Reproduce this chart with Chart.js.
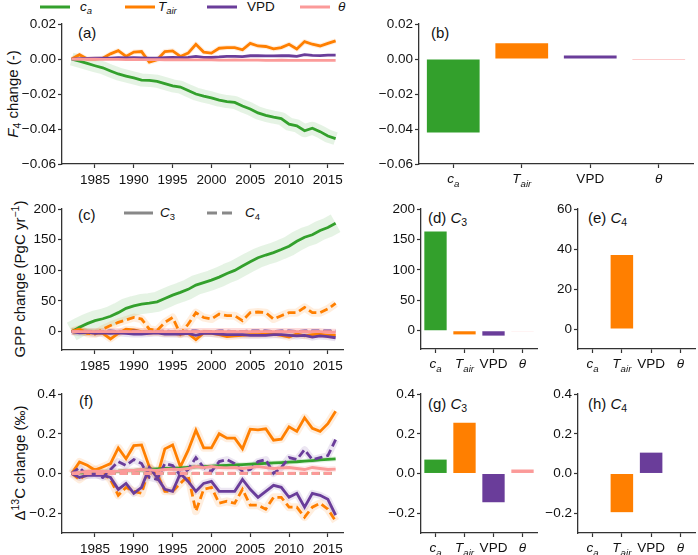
<!DOCTYPE html>
<html>
<head>
<meta charset="utf-8">
<script src="https://cdn.jsdelivr.net/npm/chart.js"></script>
<style>
  body { margin:0; background:#fff; width:698px; height:555px; position:relative; overflow:hidden;
         font-family:"Liberation Sans", Arial, sans-serif; color:#111; }
  .box { position:absolute; }
  .txt { position:absolute; white-space:nowrap; line-height:1; }
  .lab { font-size:15px; transform:translateY(-50%); }
  .ttl { font-size:15px; transform:translate(-50%,-50%) rotate(-90deg); }
  .leg { font-size:13.5px; transform:translateY(-50%); }
  .ln  { position:absolute; height:3px; transform:translateY(-50%); }
  sub { font-size:70%; vertical-align:-0.3em; line-height:0; }
  sup { font-size:70%; vertical-align:0.55em; line-height:0; }
</style>
</head>
<body>

<!-- top legend -->
<div class="ln" style="left:40px;top:7px;width:30px;background:#33a02c"></div>
<div class="txt leg" style="left:80px;top:7px"><i>c</i><sub><i>a</i></sub></div>
<div class="ln" style="left:125px;top:7px;width:30px;background:#ff7f00"></div>
<div class="txt leg" style="left:158px;top:7px"><i>T</i><sub><i>air</i></sub></div>
<div class="ln" style="left:207px;top:7px;width:30px;background:#6a3d9a"></div>
<div class="txt leg" style="left:247px;top:7px">VPD</div>
<div class="ln" style="left:300px;top:7px;width:30px;background:#fb9a99"></div>
<div class="txt leg" style="left:338px;top:7px"><i>θ</i></div>

<!-- panel (c) legend -->
<div class="ln" style="left:124px;top:213px;width:29px;background:#888"></div>
<div class="txt leg" style="left:160px;top:213px"><i>C</i><sub>3</sub></div>
<div class="ln" style="left:207px;top:213px;width:30px;background:repeating-linear-gradient(90deg,#888 0 10px,transparent 10px 15px)"></div>
<div class="txt leg" style="left:245px;top:213px"><i>C</i><sub>4</sub></div>

<!-- panel labels -->
<div class="txt lab" style="left:78px;top:32px">(a)</div>
<div class="txt lab" style="left:431px;top:32px">(b)</div>
<div class="txt lab" style="left:78px;top:214px">(c)</div>
<div class="txt lab" style="left:428px;top:217px">(d) <i>C</i><sub>3</sub></div>
<div class="txt lab" style="left:588px;top:217px">(e) <i>C</i><sub>4</sub></div>
<div class="txt lab" style="left:79px;top:400px">(f)</div>
<div class="txt lab" style="left:428px;top:403px">(g) <i>C</i><sub>3</sub></div>
<div class="txt lab" style="left:588px;top:403px">(h) <i>C</i><sub>4</sub></div>

<!-- axis titles -->
<div class="txt ttl" style="left:12px;top:94px"><i>F</i><sub>4</sub> change (-)</div>
<div class="txt ttl" style="left:19px;top:279px">GPP change (PgC yr<sup>−1</sup>)</div>
<div class="txt ttl" style="left:19px;top:463px">Δ<sup>13</sup>C change (‰)</div>

<script>
// ---- data ----
const years = [1982,1983,1984,1985,1986,1987,1988,1989,1990,1991,1992,1993,1994,1995,1996,1997,1998,1999,
               2000,2001,2002,2003,2004,2005,2006,2007,2008,2009,2010,2011,2012,2013,2014,2015,2016];
const yearTicks = [1985,1990,1995,2000,2005,2010,2015];
const factors = ['c_a','T_air','VPD','θ'];

// (a) F4 change
const f4Ca    = [0,-0.0012,-0.0025,-0.0038,-0.0050,-0.0068,-0.0085,-0.0097,-0.0108,-0.0120,-0.0122,-0.0127,-0.0140,-0.0153,-0.0160,-0.0180,-0.0200,-0.0212,
                 -0.0222,-0.0235,-0.0243,-0.0248,-0.0268,-0.0285,-0.0308,-0.0322,-0.0332,-0.0340,-0.0372,-0.0382,-0.0410,-0.0395,-0.0415,-0.0440,-0.0455];
const f4Tair  = [0,0.0025,0,0,0.0005,0.003,0.0048,0.0015,0.004,0.0043,-0.0018,-0.0004,0.0043,0.0047,0.0015,0.0034,0.0085,0.004,
                 0.0034,0.0062,0.0066,0.0066,0.0053,0.009,0.0075,0.0072,0.0058,0.0066,0.0085,0.0058,0.010,0.0085,0.0075,0.009,0.0104];
const f4Vpd   = [0,0.0003,0.0004,0.0005,0.0005,0.0006,0.0008,0.0007,0.0008,0.0007,0.0005,0.0006,0.0008,0.0009,0.0008,0.0010,0.0015,0.0010,
                 0.0009,0.0012,0.0016,0.0015,0.0014,0.0019,0.0019,0.0018,0.0018,0.0019,0.0019,0.0015,0.0025,0.0021,0.0020,0.0023,0.0023];
const f4Theta = [0,-0.0001,-0.0001,-0.0001,-0.0002,-0.0002,-0.0002,-0.0003,-0.0002,-0.0003,-0.0003,-0.0003,-0.0004,-0.0004,-0.0004,-0.0005,-0.0005,-0.0005,
                 -0.0005,-0.0006,-0.0006,-0.0005,-0.0006,-0.0006,-0.0006,-0.0007,-0.0007,-0.0006,-0.0007,-0.0007,-0.0007,-0.0008,-0.0008,-0.0008,-0.0008];
// (b)
const f4Total = [-0.042, 0.009, 0.002, -0.0005];

// (c) GPP change
const gppC3Ca    = [0,7,13,18,21,25,31,38,42,45,46.5,48.6,54,59.5,64,69,76,80,84,89,95,100,107,114,120.5,125,129,134,139.5,147.5,154,158,165,170,177];
const gppC3Tair  = [0,4,-2,-2,-3,-12,-3,4,3,0,-2,-1,-3,-3,-4,-3,-13,-2,-3,-5,-8,-7,-6,-5,-5,-4,-4,-6,-9,-4,-7,-5,-4,-6,-6];
const gppC4Tair  = [0,4,-3,-4,4,10,15,19,23,20.5,4,2,15,23,-4,12,31,23,20.5,28.6,26,26,18,31,32,31,20.5,26,31,31,39.5,31,31,37,46];
const gppC3Vpd   = [0,-2,-1,-3,-2,-3,-2,-3,-4,-4,-3,-2,-4,-4,-4,-3,-6,-3,-3,-4,-5,-5,-5,-6,-6,-6,-5,-5,-6,-7,-6,-9,-7,-8,-10];
const gppC4Vpd   = [0,0,0,0,0,1,0,0,1,0,0,0,1,0,0,1,1,0,0,1,1,0,0,1,1,1,0,1,1,0,1,1,1,1,1];
const gppC3Theta = [0,0,0,0,0,0,0,0,0,0,0,0,0,0,0,0,0,0,0,0,0,0,0,0,0,0,0,0,0,0,0,0,0,-1,-1];
const gppC4Zero  = [0,0,0,0,0,0,0,0,0,0,0,0,0,0,0,0,0,0,0,0,0,0,0,0,0,0,0,0,0,0,0,0,0,0,0];
// (d), (e)
const gppC3Total = [163, -6, -8, -1];
const gppC4Total = [0, 37, 0, 0];

// (f) Delta13C change
const dC3Ca    = [0,0.003,0.005,0.007,0.009,0.011,0.012,0.014,0.016,0.018,0.021,0.023,0.025,0.026,0.028,0.031,0.033,0.035,
                  0.037,0.039,0.041,0.043,0.045,0.047,0.049,0.051,0.053,0.055,0.057,0.059,0.062,0.065,0.068,0.071,0.074];
const dC3Tair  = [0,0.058,0.041,0.017,0.033,0.05,0.129,0.074,0.14,0.144,0.033,-0.017,0.124,0.144,0.033,0.116,0.218,0.129,
                  0.129,0.2,0.178,0.178,0.124,0.223,0.22,0.225,0.168,0.173,0.235,0.212,0.281,0.228,0.212,0.251,0.314];
const dC4Tair  = [0,-0.03,0,0.02,0,-0.03,-0.11,-0.07,-0.09,-0.1,0.03,0,-0.09,-0.09,-0.05,-0.01,-0.19,-0.08,
                  -0.07,-0.15,-0.14,-0.15,-0.08,-0.16,-0.16,-0.18,-0.12,-0.12,-0.17,-0.17,-0.22,-0.17,-0.15,-0.18,-0.24];
const dC3Vpd   = [0,-0.02,-0.01,-0.01,-0.01,-0.02,-0.08,-0.05,-0.1,-0.07,0.03,-0.02,-0.08,-0.09,0,-0.04,-0.09,-0.05,
                  -0.04,-0.09,-0.09,-0.09,-0.03,-0.08,-0.12,-0.09,-0.06,-0.07,-0.12,-0.1,-0.17,-0.1,-0.11,-0.13,-0.21];
const dC4Vpd   = [0,0.03,-0.01,0,-0.02,0.02,0.06,0.04,0.07,0.05,-0.02,-0.03,0.05,0.04,-0.01,0.02,0.08,0.03,
                  0.01,0.06,0.07,0.05,0.01,0.02,0.06,0.07,0,0.03,0.08,0.07,0.12,0.07,0.08,0.09,0.17];
const dC3Theta = [0,0.005,0.01,0.012,0.01,0.01,0.012,0.015,0.015,0.02,0.018,0.015,0.02,0.022,0.02,0.025,0.035,0.03,
                  0.035,0.03,0.028,0.03,0.025,0.03,0.035,0.03,0.025,0.028,0.03,0.025,0.02,0.03,0.025,0.02,0.022];
const dC4Zero  = gppC4Zero;
// (g), (h)
const dC3Total = [0.07, 0.255, -0.145, 0.02];
const dC4Total = [0, -0.195, 0.105, 0];

// tick values
const f4Ticks  = [-0.06,-0.04,-0.02,0,0.02];
const gppTicks = [0,50,100,150,200];
const c4Ticks  = [0,20,40,60];
const dTicks   = [-0.2,0,0.2,0.4];

// ---- style ----
const GREEN = '#33a02c', ORANGE = '#ff7f00', PURPLE = '#6a3d9a', PINK = '#fb9a99';
const barColors = [GREEN, ORANGE, PURPLE, PINK];
const FONT = '"Liberation Sans", Arial, sans-serif';
Chart.defaults.font.family = FONT;
Chart.defaults.font.size = 13.5;
Chart.defaults.color = '#111';

const YW = 56, XH = 30, PT = 9, PR = 6;

function fmt(dec) {
  return v => (v < 0 ? '\u2212' : '') + Math.abs(v).toFixed(dec);
}

function makeCanvas(r) {
  const [L, T, R, B] = r;
  const w = R - L + YW + PR, h = B - T + PT + XH;
  const d = document.createElement('div');
  d.className = 'box';
  d.style.left = (L - YW) + 'px';
  d.style.top = (T - PT) + 'px';
  const c = document.createElement('canvas');
  c.width = w; c.height = h;
  c.style.width = w + 'px'; c.style.height = h + 'px';
  d.appendChild(c);
  document.body.appendChild(d);
  return c;
}

const spine = {
  border: { display: true, color: '#333', width: 1.3 },
  grid: { drawOnChartArea: false, drawTicks: true, tickLength: 4, color: '#333', tickWidth: 1.2 }
};

function yAxis(ticks, min, max, f) {
  return Object.assign({}, spine, {
    type: 'linear', min: min, max: max,
    ticks: { padding: 2, callback: f },
    afterBuildTicks: s => { s.ticks = ticks.map(v => ({ value: v })); },
    afterFit: s => { s.width = YW; }
  });
}

// category labels with italics and subscripts
function partsOf(label) {
  if (label === 'VPD') return [[label, false, false]];
  const [b, s] = label.split('_');
  const out = [[b, true, false]];
  if (s) out.push([s, true, true]);
  return out;
}
function drawRich(ctx, parts, cx, base, size) {
  const fontOf = p => (p[1] ? 'italic ' : '') + (p[2] ? size * 0.72 : size) + 'px ' + FONT;
  let w = 0;
  parts.forEach(p => { ctx.font = fontOf(p); w += ctx.measureText(p[0]).width; });
  let x = cx - w / 2;
  ctx.save();
  ctx.fillStyle = '#111';
  ctx.textAlign = 'left';
  ctx.textBaseline = 'alphabetic';
  parts.forEach(p => {
    ctx.font = fontOf(p);
    ctx.fillText(p[0], x, base + (p[2] ? size * 0.3 : 0));
    x += ctx.measureText(p[0]).width;
  });
  ctx.restore();
}
const richTicks = {
  id: 'richTicks',
  afterDraw(chart) {
    const sc = chart.scales.x;
    sc.ticks.forEach((t, i) => {
      drawRich(chart.ctx, partsOf(factors[i]), sc.getPixelForTick(i), sc.top + 19, 13.5);
    });
  }
};

function lineChart(rect, yT, yMin, yMax, f, lines) {
  const datasets = [];
  lines.forEach((ln, k) => {
    const pts = years.map((yr, i) => ({ x: yr, y: ln.vals[i] }));
    if (ln.halo) {
      datasets.push({ data: pts, borderColor: ln.haloColor, borderWidth: ln.halo, pointRadius: 0,
                      borderJoinStyle: 'round', borderCapStyle: 'butt', order: 100 + k });
    }
    datasets.push({ data: pts, borderColor: ln.color, borderWidth: ln.width || 2.8, pointRadius: 0,
                    borderDash: ln.dash ? [8, 4] : [], order: ln.order });
  });
  new Chart(makeCanvas(rect), {
    type: 'line',
    data: { datasets },
    options: {
      responsive: false, animation: false, devicePixelRatio: 1,
      layout: { padding: { top: PT, right: PR, left: 0, bottom: 0 } },
      plugins: { legend: { display: false }, tooltip: { enabled: false } },
      elements: { line: { tension: 0 } },
      scales: {
        x: Object.assign({}, spine, {
          type: 'linear', min: 1980.75, max: 2016.95,
          ticks: { padding: 4, maxRotation: 0, autoSkip: false, callback: v => String(v) },
          afterBuildTicks: s => { s.ticks = yearTicks.map(v => ({ value: v })); },
          afterFit: s => { s.height = XH; }
        }),
        y: yAxis(yT, yMin, yMax, f)
      }
    }
  });
}

function barChart(rect, yT, yMin, yMax, f, vals) {
  new Chart(makeCanvas(rect), {
    type: 'bar',
    data: {
      labels: factors,
      datasets: [{ data: vals, backgroundColor: barColors, borderWidth: 0,
                   barPercentage: 0.77, categoryPercentage: 1 }]
    },
    options: {
      responsive: false, animation: false, devicePixelRatio: 1,
      layout: { padding: { top: PT, right: PR, left: 0, bottom: 0 } },
      plugins: { legend: { display: false }, tooltip: { enabled: false } },
      scales: {
        x: {
          type: 'category', offset: true,
          border: spine.border,
          grid: Object.assign({}, spine.grid, { offset: false }),
          ticks: { callback: () => '' },
          afterFit: s => { s.height = XH; }
        },
        y: yAxis(yT, yMin, yMax, f)
      }
    },
    plugins: [richTicks]
  });
}

// (a)
lineChart([62, 23, 343, 164], f4Ticks, -0.06, 0.02, fmt(2), [
  { vals: f4Ca,    color: GREEN,  order: 4, halo: 13, haloColor: 'rgba(51,160,44,0.13)' },
  { vals: f4Tair,  color: ORANGE, order: 3, halo: 5,  haloColor: 'rgba(255,127,0,0.12)' },
  { vals: f4Vpd,   color: PURPLE, order: 2 },
  { vals: f4Theta, color: PINK,   order: 1 }
]);
// (b)
barChart([419, 23, 693, 164], f4Ticks, -0.06, 0.02, fmt(2), f4Total);

// (c)
lineChart([62, 208, 343, 350], gppTicks, -30, 200, fmt(0), [
  { vals: gppC3Ca,    color: GREEN,  order: 8, halo: 20, haloColor: 'rgba(51,160,44,0.13)' },
  { vals: gppC4Zero,  color: GREEN,  order: 7, dash: true },
  { vals: gppC4Tair,  color: ORANGE, order: 6, dash: true, halo: 8, haloColor: 'rgba(255,127,0,0.13)' },
  { vals: gppC3Tair,  color: ORANGE, order: 5, halo: 7, haloColor: 'rgba(255,127,0,0.13)' },
  { vals: gppC4Vpd,   color: PURPLE, order: 4, dash: true },
  { vals: gppC3Vpd,   color: PURPLE, order: 3, halo: 7, haloColor: 'rgba(106,61,154,0.15)' },
  { vals: gppC4Zero,  color: PINK,   order: 2, dash: true },
  { vals: gppC3Theta, color: PINK,   order: 1, halo: 7, haloColor: 'rgba(251,154,153,0.35)' }
]);
// (d), (e)
barChart([421, 208, 537, 349], gppTicks, -30, 200, fmt(0), gppC3Total);
barChart([578, 208, 695, 349], c4Ticks, -10, 60, fmt(0), gppC4Total);

// (f)
lineChart([62, 393, 343, 533], dTicks, -0.3, 0.4, fmt(1), [
  { vals: dC4Zero,  color: GREEN,  order: 8, dash: true },
  { vals: dC3Ca,    color: GREEN,  order: 5, halo: 5, haloColor: 'rgba(51,160,44,0.12)' },
  { vals: dC4Tair,  color: ORANGE, order: 7, dash: true, halo: 8, haloColor: 'rgba(255,127,0,0.13)' },
  { vals: dC3Tair,  color: ORANGE, order: 6, halo: 8, haloColor: 'rgba(255,127,0,0.13)' },
  { vals: dC4Vpd,   color: PURPLE, order: 4, dash: true, halo: 7, haloColor: 'rgba(106,61,154,0.13)' },
  { vals: dC3Vpd,   color: PURPLE, order: 3, halo: 7, haloColor: 'rgba(106,61,154,0.13)' },
  { vals: dC4Zero,  color: PINK,   order: 2, dash: true, width: 3.2 },
  { vals: dC3Theta, color: PINK,   order: 1, halo: 6, haloColor: 'rgba(251,154,153,0.2)' }
]);
// (g), (h)
barChart([421, 393, 537, 533], dTicks, -0.3, 0.4, fmt(1), dC3Total);
barChart([578, 393, 695, 533], dTicks, -0.3, 0.4, fmt(1), dC4Total);
</script>
</body>
</html>
